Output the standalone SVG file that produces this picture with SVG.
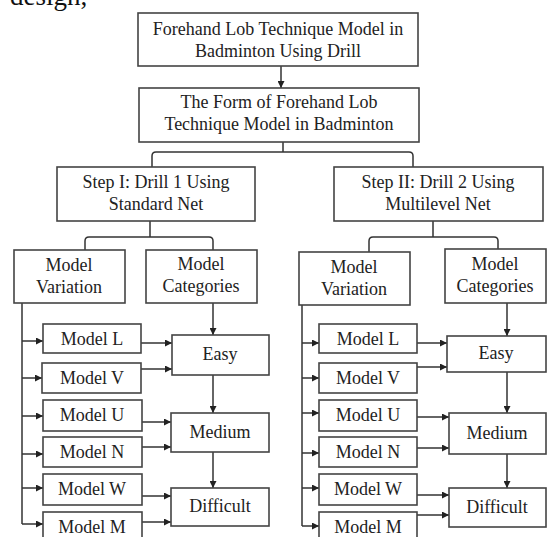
<svg xmlns="http://www.w3.org/2000/svg" width="547" height="537" viewBox="0 0 547 537">
<defs>
<marker id="ah" viewBox="0 0 10 10" refX="10" refY="5" markerWidth="7" markerHeight="7" markerUnits="userSpaceOnUse" orient="auto">
<path d="M0,0 L10,5 L0,10 Z" fill="#222"/>
</marker>
<style>
rect{fill:#fff;stroke:#444;stroke-width:1.6}
text{font-family:"Liberation Serif","Times New Roman",serif;font-size:18px;fill:#222;text-anchor:middle}
.c path,.c line{fill:none;stroke:#333;stroke-width:1.5}
.a{marker-end:url(#ah)}
</style>
</defs>
<rect x="0" y="0" width="547" height="537" style="fill:#fff;stroke:none"/>
<text x="10" y="5" style="font-size:27px;text-anchor:start;fill:#111">design,</text>

<g class="c">
<line class="a" x1="281" y1="66" x2="281" y2="88"/>
<path d="M283,142 V152 M152,167 V156 Q152,152 156,152 H409 Q413,152 413,156 V167"/>
<path d="M150,221 V237 M85,250 V241 Q85,237 89,237 H209 Q213,237 213,241 V250"/>
<path d="M433,221 V237 M369,252 V241 Q369,237 373,237 H494 Q498,237 498,241 V249"/>
<path d="M22,303 V524"/>
<line class="a" x1="22" y1="341" x2="43" y2="341"/>
<line class="a" x1="22" y1="378" x2="42" y2="378"/>
<line class="a" x1="22" y1="416" x2="43" y2="416"/>
<line class="a" x1="22" y1="454" x2="43" y2="454"/>
<line class="a" x1="22" y1="488" x2="43" y2="488"/>
<line class="a" x1="22" y1="524" x2="43" y2="524"/>
<line class="a" x1="141" y1="343" x2="172" y2="343"/>
<line class="a" x1="141" y1="369" x2="172" y2="369"/>
<line class="a" x1="142" y1="422" x2="171" y2="422"/>
<line class="a" x1="142" y1="447" x2="171" y2="447"/>
<line class="a" x1="142" y1="496" x2="171" y2="496"/>
<line class="a" x1="142" y1="522" x2="171" y2="522"/>
<line class="a" x1="213" y1="303" x2="213" y2="335"/>
<line class="a" x1="213" y1="375" x2="213" y2="413"/>
<line class="a" x1="213" y1="452" x2="213" y2="488"/>
<path d="M302,305 V526"/>
<line class="a" x1="302" y1="343" x2="319" y2="343"/>
<line class="a" x1="302" y1="378" x2="319" y2="378"/>
<line class="a" x1="302" y1="413" x2="319" y2="413"/>
<line class="a" x1="302" y1="453" x2="319" y2="453"/>
<line class="a" x1="302" y1="488" x2="319" y2="488"/>
<line class="a" x1="302" y1="526" x2="319" y2="526"/>
<line class="a" x1="417" y1="343" x2="447" y2="343"/>
<line class="a" x1="417" y1="367" x2="447" y2="367"/>
<line class="a" x1="417" y1="417" x2="449" y2="417"/>
<line class="a" x1="417" y1="448" x2="449" y2="448"/>
<line class="a" x1="417" y1="495" x2="449" y2="495"/>
<line class="a" x1="417" y1="515" x2="449" y2="515"/>
<line class="a" x1="507" y1="303" x2="507" y2="336"/>
<line class="a" x1="507" y1="372" x2="507" y2="413"/>
<line class="a" x1="507" y1="454" x2="507" y2="488"/>
</g>

<g id="n-root"><rect x="138" y="13" width="280" height="53"/><text x="278" y="35">Forehand Lob Technique Model in</text><text x="278" y="57">Badminton Using Drill</text></g>
<g id="n-form"><rect x="139" y="88" width="280" height="54"/><text x="279" y="108">The Form of Forehand Lob</text><text x="279" y="130">Technique Model in Badminton</text></g>
<g id="n-step1"><rect x="57" y="167" width="198" height="54"/><text x="156" y="188">Step I: Drill 1 Using</text><text x="156" y="210">Standard Net</text></g>
<g id="n-step2"><rect x="334" y="167" width="209" height="54"/><text x="438" y="188">Step II: Drill 2 Using</text><text x="438" y="210">Multilevel Net</text></g>

<g id="n-mv1"><rect x="14" y="250" width="111" height="53"/><text x="69" y="271">Model</text><text x="69" y="293">Variation</text></g>
<g id="n-mc1"><rect x="146" y="250" width="111" height="53"/><text x="201" y="270">Model</text><text x="201" y="292">Categories</text></g>
<g id="n-mv2"><rect x="299" y="252" width="111" height="53"/><text x="354" y="273">Model</text><text x="354" y="295">Variation</text></g>
<g id="n-mc2"><rect x="445" y="249" width="101" height="54"/><text x="495" y="270">Model</text><text x="495" y="292">Categories</text></g>

<g id="n-l1"><rect x="43" y="324" width="98" height="29"/><text x="92" y="345">Model L</text></g>
<g id="n-v1"><rect x="42" y="363" width="99" height="30"/><text x="92" y="384">Model V</text></g>
<g id="n-u1"><rect x="43" y="400" width="99" height="31"/><text x="92" y="421">Model U</text></g>
<g id="n-n1"><rect x="43" y="437" width="99" height="30"/><text x="92" y="458">Model N</text></g>
<g id="n-w1"><rect x="43" y="474" width="99" height="31"/><text x="92" y="495">Model W</text></g>
<g id="n-m1"><rect x="43" y="512" width="99" height="30"/><text x="92" y="533">Model M</text></g>
<g id="n-easy1"><rect x="172" y="335" width="97" height="40"/><text x="220" y="360">Easy</text></g>
<g id="n-med1"><rect x="171" y="413" width="98" height="39"/><text x="220" y="438">Medium</text></g>
<g id="n-dif1"><rect x="171" y="488" width="98" height="38"/><text x="220" y="512">Difficult</text></g>

<g id="n-l2"><rect x="319" y="324" width="98" height="29"/><text x="368" y="345">Model L</text></g>
<g id="n-v2"><rect x="319" y="363" width="98" height="30"/><text x="368" y="384">Model V</text></g>
<g id="n-u2"><rect x="319" y="400" width="98" height="31"/><text x="368" y="421">Model U</text></g>
<g id="n-n2"><rect x="319" y="437" width="98" height="30"/><text x="368" y="458">Model N</text></g>
<g id="n-w2"><rect x="319" y="474" width="98" height="31"/><text x="368" y="495">Model W</text></g>
<g id="n-m2"><rect x="319" y="512" width="98" height="30"/><text x="368" y="533">Model M</text></g>
<g id="n-easy2"><rect x="447" y="336" width="99" height="36"/><text x="496" y="359">Easy</text></g>
<g id="n-med2"><rect x="449" y="413" width="97" height="41"/><text x="497" y="439">Medium</text></g>
<g id="n-dif2"><rect x="449" y="488" width="97" height="39"/><text x="497" y="513">Difficult</text></g>
</svg>
